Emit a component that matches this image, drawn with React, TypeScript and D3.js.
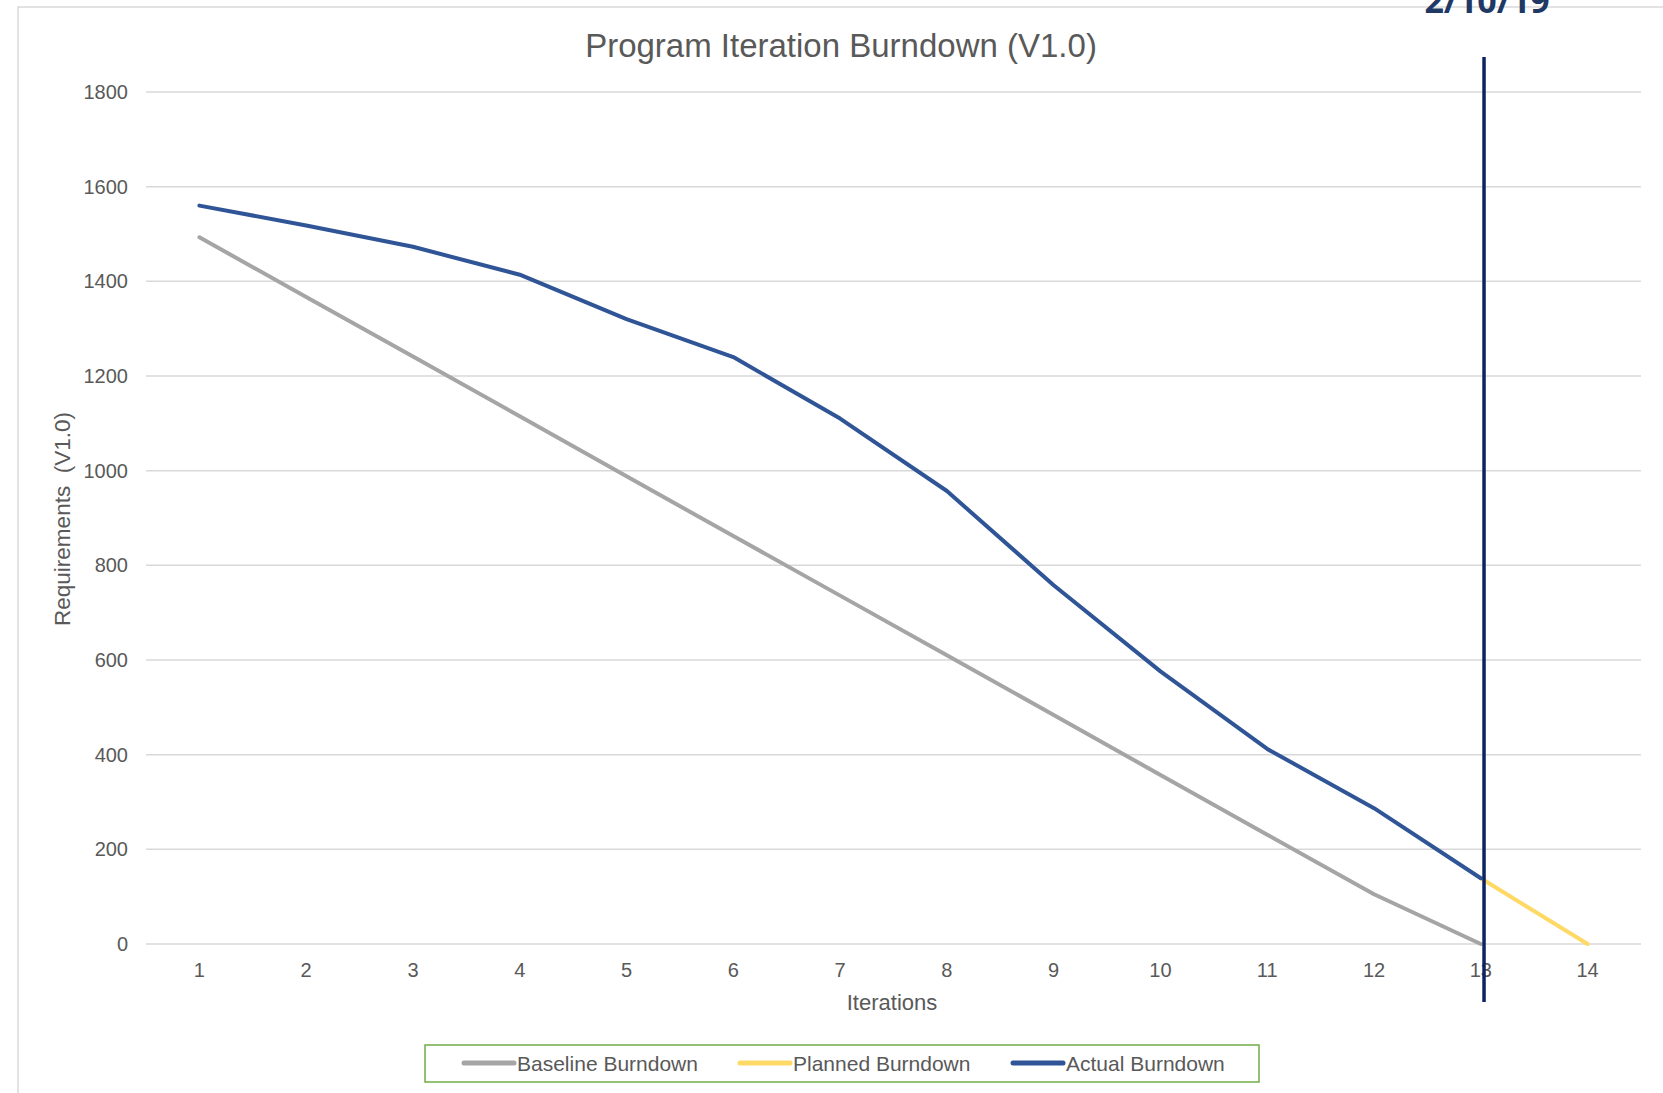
import React, { useEffect, useRef } from "react";
import * as d3 from "d3";

// iterations on the x axis
const iterations = [1, 2, 3, 4, 5, 6, 7, 8, 9, 10, 11, 12, 13, 14];

// series values (null = no point)
const baselineBurndown = [1493, 1367, 1241, 1115, 988, 862, 736, 610, 484, 357, 231, 105, 0, null];
const plannedBurndown = [null, null, null, null, null, null, null, null, null, null, null, null, 139, 0];
const actualBurndown = [1560, 1518, 1473, 1414, 1320, 1240, 1110, 957, 758, 576, 412, 287, 139, null];

const yTicks = [0, 200, 400, 600, 800, 1000, 1200, 1400, 1600, 1800];

// status date marker, sits just past iteration 13
const markerLabel = "2/10/19";
const markerIteration = 13.03;

const seriesNames = ["Baseline Burndown", "Planned Burndown", "Actual Burndown"];
const seriesColors = ["#a5a5a5", "#ffd966", "#2f5597"];

const App = () => {
  const ref = useRef<SVGSVGElement | null>(null);

  useEffect(() => {
    drawChart();
  }, []);

  const drawChart = () => {
    const svg = d3.select(ref.current);
    svg.selectAll("*").remove();

    const W = 1663,
      H = 1093;
    const font = "'Liberation Sans', Arial, sans-serif";
    const textColor = "#595959";

    // outer chart border
    svg
      .append("rect")
      .attr("x", 18)
      .attr("y", 7)
      .attr("width", W)
      .attr("height", H)
      .attr("fill", "#fff")
      .attr("stroke", "#d9d9d9")
      .attr("stroke-width", 1.5);

    const x = d3.scaleLinear().domain([0.5, 14.5]).range([146, 1641]);
    const y = d3.scaleLinear().domain([0, 1800]).range([944, 92]);

    // gridlines
    svg
      .append("g")
      .selectAll("line")
      .data(yTicks)
      .enter()
      .append("line")
      .attr("x1", x(0.5))
      .attr("x2", x(14.5))
      .attr("y1", (d) => y(d))
      .attr("y2", (d) => y(d))
      .attr("stroke", "#d9d9d9")
      .attr("stroke-width", 1.5);

    // y tick labels
    svg
      .append("g")
      .selectAll("text")
      .data(yTicks)
      .enter()
      .append("text")
      .attr("x", 128)
      .attr("y", (d) => y(d))
      .attr("dy", "0.35em")
      .attr("text-anchor", "end")
      .attr("font-family", font)
      .attr("font-size", 20)
      .attr("fill", textColor)
      .text((d) => d);

    // x tick labels
    svg
      .append("g")
      .selectAll("text")
      .data(iterations)
      .enter()
      .append("text")
      .attr("x", (d) => x(d))
      .attr("y", 977)
      .attr("text-anchor", "middle")
      .attr("font-family", font)
      .attr("font-size", 20)
      .attr("fill", textColor)
      .text((d) => d);

    // title
    svg
      .append("text")
      .attr("x", 841)
      .attr("y", 57)
      .attr("text-anchor", "middle")
      .attr("font-family", font)
      .attr("font-size", 33)
      .attr("fill", textColor)
      .text("Program Iteration Burndown (V1.0)");

    // axis titles
    svg
      .append("text")
      .attr("x", 892)
      .attr("y", 1010)
      .attr("text-anchor", "middle")
      .attr("font-family", font)
      .attr("font-size", 22)
      .attr("fill", textColor)
      .text("Iterations");

    svg
      .append("text")
      .attr("transform", "translate(70,519) rotate(-90)")
      .attr("text-anchor", "middle")
      .attr("font-family", font)
      .attr("font-size", 22.5)
      .attr("fill", textColor)
      .text("Requirements\u00a0 (V1.0)");

    // lines
    const allSeries = [baselineBurndown, plannedBurndown, actualBurndown];
    const line = d3
      .line<number | null>()
      .defined((d) => d !== null)
      .x((d, i) => x(iterations[i]))
      .y((d) => y(d as number));

    allSeries.forEach((s, i) => {
      svg
        .append("path")
        .datum(s)
        .attr("d", line)
        .attr("fill", "none")
        .attr("stroke", seriesColors[i])
        .attr("stroke-width", 4)
        .attr("stroke-linejoin", "round")
        .attr("stroke-linecap", "round");
    });

    // status date marker
    svg
      .append("line")
      .attr("x1", x(markerIteration))
      .attr("x2", x(markerIteration))
      .attr("y1", 57)
      .attr("y2", 1002)
      .attr("stroke", "#0c2461")
      .attr("stroke-width", 3.5);

    svg
      .append("text")
      .attr("x", x(markerIteration) + 3)
      .attr("y", 13)
      .attr("text-anchor", "middle")
      .attr("font-family", "'Open Sans', 'Noto Sans', sans-serif")
      .attr("font-weight", "bold")
      .attr("font-size", 34)
      .attr("fill", "#203864")
      .text(markerLabel);

    // legend
    const legend = svg.append("g");
    legend
      .append("rect")
      .attr("x", 425)
      .attr("y", 1045)
      .attr("width", 834)
      .attr("height", 37)
      .attr("fill", "#fff")
      .attr("stroke", "#70ad47")
      .attr("stroke-width", 1.5);

    const legendX = [464, 740, 1013];
    seriesNames.forEach((name, i) => {
      legend
        .append("line")
        .attr("x1", legendX[i])
        .attr("x2", legendX[i] + 50)
        .attr("y1", 1063)
        .attr("y2", 1063)
        .attr("stroke", seriesColors[i])
        .attr("stroke-width", 5)
        .attr("stroke-linecap", "round");
      legend
        .append("text")
        .attr("x", legendX[i] + 53)
        .attr("y", 1071)
        .attr("font-family", font)
        .attr("font-size", 21)
        .attr("fill", textColor)
        .text(name);
    });
  };

  return (
    <svg
      ref={ref}
      width={1663}
      height={1093}
      style={{ position: "absolute", left: 0, top: 0, background: "#fff" }}
    />
  );
};

export default App;
